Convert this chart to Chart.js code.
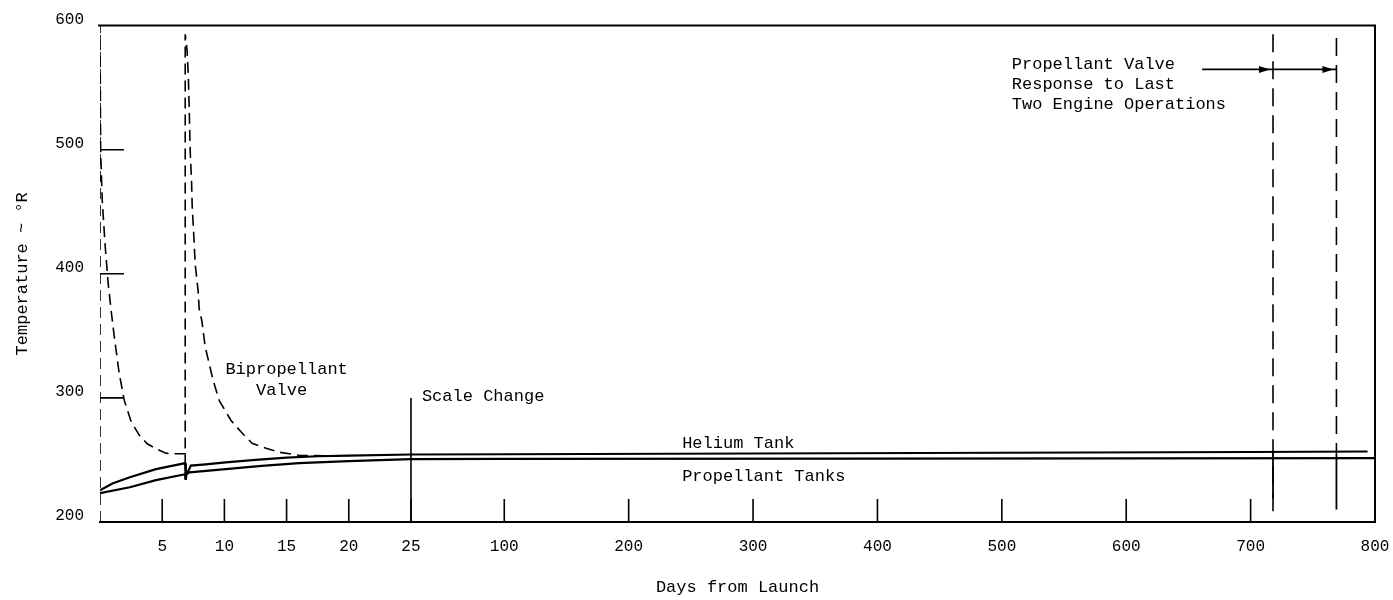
<!DOCTYPE html>
<html>
<head>
<meta charset="utf-8">
<title>Temperature history</title>
<script src="https://cdn.jsdelivr.net/npm/chart.js@4.4.1/dist/chart.umd.min.js"></script>
<style>
  html, body { margin: 0; padding: 0; background: #fff; }
  #wrap { width: 1393px; height: 600px; }
</style>
</head>
<body>
<div id="wrap"><canvas id="chart" width="1393" height="600"></canvas></div>
<script>
// x axis is broken at day 25: linear up to 25, then compressed 10:1 up to 800
const BREAK_DAY = 25;
const COMPRESS = 10;
const toAxis = (day) => (day <= BREAK_DAY ? day : BREAK_DAY + (day - BREAK_DAY) / COMPRESS);
const fromAxis = (u) => (u <= BREAK_DAY ? u : BREAK_DAY + (u - BREAK_DAY) * COMPRESS);

const xTickDays = [5, 10, 15, 20, 25, 100, 200, 300, 400, 500, 600, 700, 800];
const yTickTemps = [200, 300, 400, 500, 600];
const yInnerTicks = [300, 400, 500];

const heliumDays  = [0, 1, 2.4, 4.5, 6.85, 6.9, 7.1, 7.3, 8.5, 10.1, 12.5, 15, 17.5, 20, 25, 100, 300, 500, 700, 794];
const heliumTemps = [225.5, 231, 236, 242.6, 247.4, 239.5, 241, 245.5, 246.5, 248, 250, 251.8, 253, 253.5, 254.4, 254.6, 255.2, 255.8, 256.4, 256.8];

const propDays  = [0, 2.4, 4.5, 6.85, 6.9, 6.95, 7.2, 10.1, 13, 16, 20, 25, 100, 400, 800];
const propTemps = [223.3, 228, 233.7, 238.5, 234, 238.5, 240, 242.6, 245.2, 247.4, 249, 250.6, 250.8, 251.1, 251.4];

const biValveDays  = [0, 0, 0.05, 0.18, 0.42, 0.66, 0.9, 1.14, 1.3, 1.54, 1.95, 2.5, 3.15, 3.8, 4.5, 5.3, 5.72, 6.85,
                      6.85, 6.85, 7.0, 7.1, 7.18, 7.25, 7.36, 7.41, 7.55, 7.65, 7.89, 7.97, 8.19, 8.46, 8.91, 9.1,
                      9.58, 10.52, 11.44, 12.23, 13.35, 14.4, 16.0, 18, 20];
const biValveTemps = [200, 600, 500, 459, 422, 392, 370, 350, 338, 320, 298, 281, 270, 263, 259, 255.5, 255, 255,
                      234, 593, 580, 560, 530, 499, 475, 455, 429, 408, 386, 372, 362, 341, 322, 314,
                      298, 282, 271.5, 263.5, 259.4, 256.2, 253.8, 253.3, 253.5];

const scaleChangeDays  = [25, 25];
const scaleChangeTemps = [200, 300];

// last two engine operations on the propellant valve
const valve1Days = [718, 718];
const valve1DashTemps = [593, 207];
const valve1SolidTemps = [256, 219];
const valve2Days = [769, 769];
const valve2DashTemps = [590, 255];
const valve2SolidTemps = [255, 210];

const arrowDays  = [661, 769];
const arrowTemps = [564.7, 564.7];
const arrowHeadDays = [718, 769];

const notes = [
  { text: 'Bipropellant', day: 15.0, temp: 323, align: 'center' },
  { text: 'Valve', day: 14.6, temp: 306, align: 'center' },
  { text: 'Scale Change', day: 33.8, temp: 301, align: 'left' },
  { text: 'Helium Tank', day: 243, temp: 263.5, align: 'left' },
  { text: 'Propellant Tanks', day: 243, temp: 237, align: 'left' },
  { text: 'Propellant Valve', day: 508, temp: 568.7, align: 'left' },
  { text: 'Response to Last', day: 508, temp: 552.6, align: 'left' },
  { text: 'Two Engine Operations', day: 508, temp: 536.5, align: 'left' }
];

const series = (days, temps) => days.map((d, i) => ({ x: toAxis(d), y: temps[i] }));

const FONT = "'Liberation Mono', 'DejaVu Sans Mono', monospace";
Chart.defaults.font.family = FONT;
Chart.defaults.color = '#000';

const line = (label, data, width, dash) => ({
  label,
  data,
  borderColor: '#000',
  borderWidth: width,
  borderDash: dash || [],
  pointRadius: 0,
  tension: 0,
  fill: false
});

// frame, inward tick marks, arrows and notes
const overlay = {
  id: 'overlay',
  afterDatasetsDraw(chart) {
    const { ctx, chartArea: area, scales: { x, y } } = chart;
    ctx.save();
    ctx.strokeStyle = '#000';
    ctx.fillStyle = '#000';

    ctx.lineWidth = 2;
    ctx.beginPath();
    ctx.moveTo(area.left - 2, area.top);
    ctx.lineTo(area.right, area.top);
    ctx.lineTo(area.right, area.bottom);
    ctx.stroke();

    ctx.lineWidth = 1.6;
    ctx.beginPath();
    xTickDays.filter((d) => d < 800).forEach((d) => {
      const px = x.getPixelForValue(toAxis(d));
      ctx.moveTo(px, area.bottom);
      ctx.lineTo(px, area.bottom - 23);
    });
    yInnerTicks.forEach((t) => {
      const py = y.getPixelForValue(t);
      ctx.moveTo(area.left, py);
      ctx.lineTo(area.left + 24, py);
    });
    ctx.stroke();

    arrowHeadDays.forEach((d) => {
      const px = x.getPixelForValue(toAxis(d)) - 3;
      const py = y.getPixelForValue(arrowTemps[0]);
      ctx.beginPath();
      ctx.moveTo(px, py);
      ctx.lineTo(px - 11, py - 3.5);
      ctx.lineTo(px - 11, py + 3.5);
      ctx.closePath();
      ctx.fill();
    });

    ctx.font = '17px ' + FONT;
    ctx.textBaseline = 'middle';
    notes.forEach((n) => {
      ctx.textAlign = n.align;
      ctx.fillText(n.text, x.getPixelForValue(toAxis(n.day)), y.getPixelForValue(n.temp));
    });
    ctx.restore();
  }
};

new Chart(document.getElementById('chart'), {
  type: 'line',
  data: {
    datasets: [
      line('Helium Tank', series(heliumDays, heliumTemps), 2.2),
      line('Propellant Tanks', series(propDays, propTemps), 2.2),
      line('Bipropellant Valve', series(biValveDays, biValveTemps), 1.6, [11, 6]),
      line('Scale Change', series(scaleChangeDays, scaleChangeTemps), 1.6),
      line('Propellant Valve 1', series(valve1Days, valve1DashTemps), 1.6, [18, 9]),
      line('Propellant Valve 1 low', series(valve1Days, valve1SolidTemps), 1.8),
      line('Propellant Valve 2', series(valve2Days, valve2DashTemps), 1.6, [18, 9]),
      line('Propellant Valve 2 low', series(valve2Days, valve2SolidTemps), 1.8),
      line('Arrow', series(arrowDays, arrowTemps), 1.6)
    ]
  },
  options: {
    responsive: false,
    animation: false,
    layout: { padding: { top: 24, right: 18, left: 0, bottom: 0 } },
    plugins: {
      legend: { display: false },
      tooltip: { enabled: false }
    },
    scales: {
      x: {
        type: 'linear',
        min: 0,
        max: toAxis(800),
        // invisible tick marks only push the labels down; the real ticks point inward
        grid: { display: true, drawOnChartArea: false, drawTicks: true, tickLength: 15, tickColor: 'rgba(0,0,0,0)' },
        border: { display: true, color: '#000', width: 2 },
        afterBuildTicks: (scale) => {
          scale.ticks = xTickDays.map((d) => ({ value: toAxis(d) }));
        },
        afterFit: (scale) => { scale.height = 78; },
        ticks: {
          autoSkip: false,
          maxRotation: 0,
          padding: 0,
          font: { size: 16 },
          callback: (value) => String(Math.round(fromAxis(value)))
        },
        title: {
          display: true,
          text: 'Days from Launch',
          font: { size: 17 },
          padding: { top: 0, bottom: 2 }
        }
      },
      y: {
        type: 'linear',
        min: 200,
        max: 600,
        grid: { display: false, drawTicks: false },
        border: { display: false },
        afterBuildTicks: (scale) => {
          scale.ticks = yTickTemps.map((t) => ({ value: t }));
        },
        afterFit: (scale) => { scale.width = 100; },
        ticks: {
          padding: 16,
          labelOffset: -6,
          font: { size: 16 }
        },
        title: {
          display: true,
          text: 'Temperature ~ °R',
          font: { size: 17 },
          padding: { top: 12, bottom: 0 }
        }
      }
    }
  },
  plugins: [overlay]
});
</script>
</body>
</html>
